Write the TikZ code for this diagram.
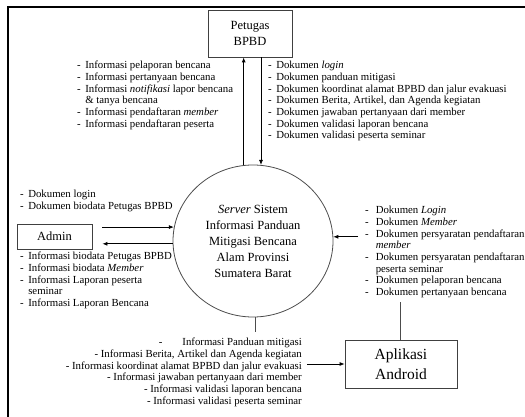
\documentclass[tikz,border=0pt]{standalone}
\usepackage{fontspec}
\setmainfont{Liberation Serif}
\usetikzlibrary{shapes.geometric,arrows.meta,calc}
\begin{document}
\begin{tikzpicture}[x=1pt,y=-1pt,
  box/.style={draw=black!75, line width=0.8pt, inner sep=0pt, align=center},
  arr/.style={draw=black, line width=0.8pt, -{Latex[length=5pt,width=4pt]}},
  ln/.style={draw=black!70, line width=0.8pt},
  lst/.style={inner sep=0pt, font=\fontsize{10.8}{11.7}\selectfont},
]
\useasboundingbox (0,0) rectangle (525,417);
\draw[line width=2.5pt] (8,418) -- (8,7) -- (526,7);

\node[box, minimum width=84pt, minimum height=47pt, font=\fontsize{12.5}{16}\selectfont] (petugas) at (250,33.5) {Petugas\\BPBD};
\node[ellipse, draw=black!70, line width=0.8pt, inner sep=0pt, minimum width=160pt, minimum height=152pt, align=center, font=\fontsize{12.5}{16}\selectfont] (srv) at (253,241) {\textit{Server} Sistem\\Informasi Panduan\\Mitigasi Bencana\\Alam Provinsi\\Sumatera Barat};
\node[box, minimum width=75pt, minimum height=25pt, font=\fontsize{12.5}{15}\selectfont] (admin) at (54.5,236.5) {Admin};
\node[box, minimum width=112pt, minimum height=48pt, font=\fontsize{15.5}{20}\selectfont] (apk) at (401,364) {Aplikasi\\Android};

% Petugas <-> server
\draw[arr] (srv.97.6) -- (srv.97.6 |- petugas.south);
\draw[arr] (srv.84.7 |- petugas.south) -- (srv.84.7);

% Admin <-> server
\coordinate (a1) at ($(admin.east)+(10,0)$);
\draw[arr] (a1 |- srv.170.6) -- (srv.170.6);
\draw[arr] (srv.182.2) -- (a1 |- srv.182.2);

% Android -> server
\coordinate (r1) at (358,236);
\coordinate (r2) at (400,302);
\draw[arr] (srv.3.6 -| r1) -- (srv.3.6);
\draw[ln] (apk.north -| r2) -- (r2);

% server -> Android
\coordinate (b1) at (256,332);
\coordinate (b2) at (307,364);
\draw[ln] (srv.272.3) -- (srv.272.3 |- b1);
\draw[arr] (apk.west -| b2) -- (apk.west);

% labels
\node[lst, anchor=north west] (l1) at (77,60.3) {\begin{tabular}{@{}l@{\hspace{4.5pt}}l@{}}
- & Informasi pelaporan bencana\\
- & Informasi pertanyaan bencana\\
- & Informasi \textit{notifikasi} lapor bencana\\
  & \& tanya bencana\\
- & Informasi pendaftaran \textit{member}\\
- & Informasi pendaftaran peserta
\end{tabular}};
\node[lst, anchor=north west] (l2) at (268,60.3) {\begin{tabular}{@{}l@{\hspace{4.5pt}}l@{}}
- & Dokumen \textit{login}\\
- & Dokumen panduan mitigasi\\
- & Dokumen koordinat alamat BPBD dan jalur evakuasi\\
- & Dokumen Berita, Artikel, dan Agenda kegiatan\\
- & Dokumen jawaban pertanyaan dari member\\
- & Dokumen validasi laporan bencana\\
- & Dokumen validasi peserta seminar
\end{tabular}};
\node[lst, anchor=north west] (l3) at (20,189.3) {\begin{tabular}{@{}l@{\hspace{4.5pt}}l@{}}
- & Dokumen login\\
- & Dokumen biodata Petugas BPBD
\end{tabular}};
\node[lst, anchor=north west] (l4) at (20,251.3) {\begin{tabular}{@{}l@{\hspace{4.5pt}}l@{}}
- & Informasi biodata Petugas BPBD\\
- & Informasi biodata \textit{Member}\\
- & Informasi Laporan peserta\\
  & seminar\\
- & Informasi Laporan Bencana
\end{tabular}};
\node[lst, anchor=north west] (l5) at (365,205.3) {\begin{tabular}{@{}l@{\hspace{7pt}}l@{}}
- & Dokumen \textit{Login}\\
- & Dokumen \textit{Member}\\
- & Dokumen persyaratan pendaftaran\\
  & \textit{member}\\
- & Dokumen persyaratan pendaftaran\\
  & peserta seminar\\
- & Dokumen pelaporan bencana\\
- & Dokumen pertanyaan bencana
\end{tabular}};
\node[lst, anchor=north east] (l6) at (302,337.3) {\begin{tabular}{@{}r@{}}
-\hspace{20pt}Informasi Panduan mitigasi\\
- Informasi Berita, Artikel dan Agenda kegiatan\\
- Informasi koordinat alamat BPBD dan jalur evakuasi\\
- Informasi jawaban pertanyaan dari member\\
- Informasi validasi laporan bencana\\
- Informasi validasi peserta seminar
\end{tabular}};
\end{tikzpicture}
\end{document}
